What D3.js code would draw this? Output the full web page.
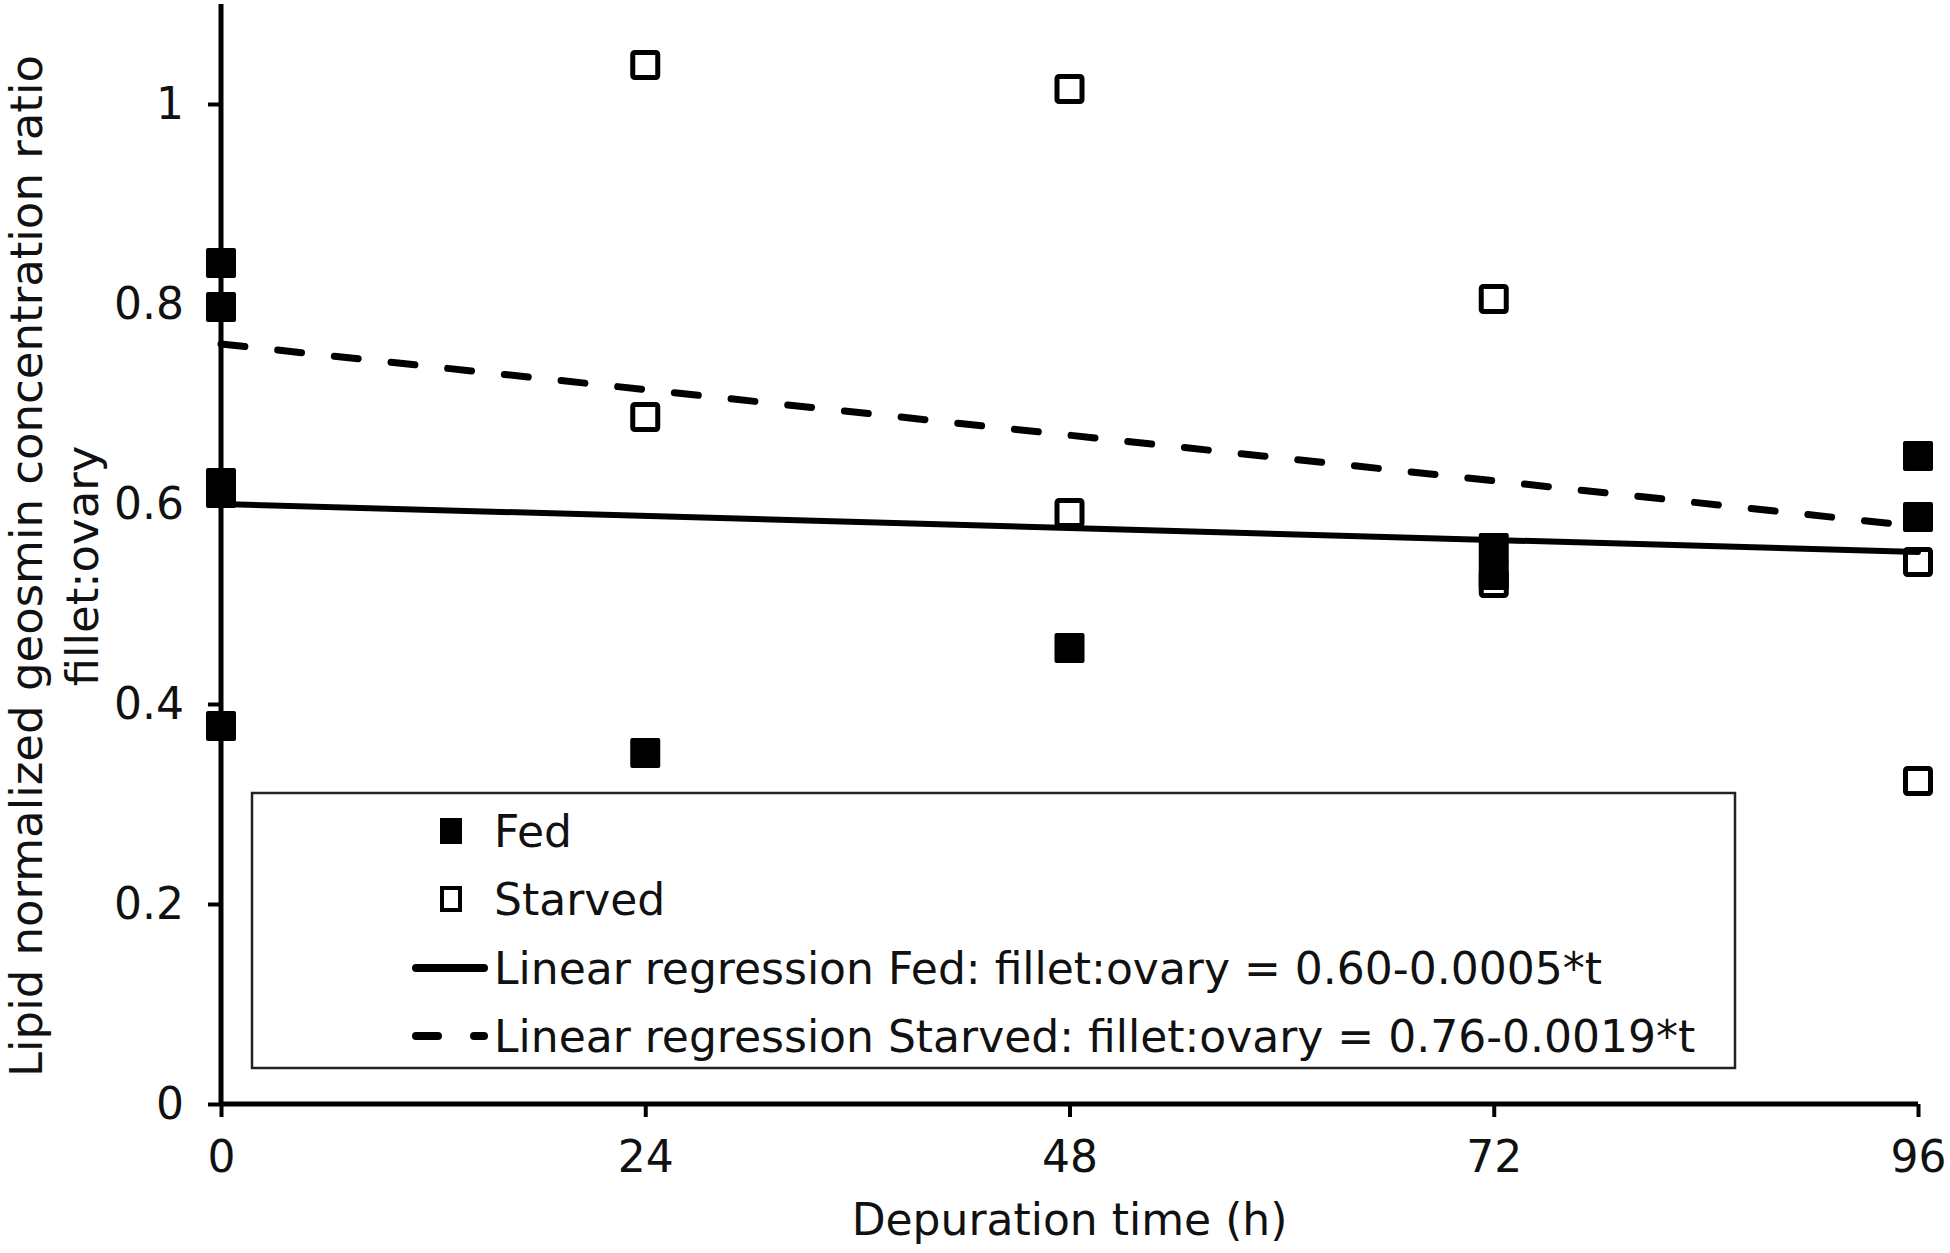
<!DOCTYPE html>
<html>
<head>
<meta charset="utf-8">
<script src="https://cdn.jsdelivr.net/npm/d3@7"></script>
<style>
  html, body { margin: 0; padding: 0; background: #fff; }
  svg text { font-family: "DejaVu Sans", Verdana, sans-serif; fill: #111; }
</style>
</head>
<body>
<div id="chart"></div>
<script>
// depuration time (h) and lipid normalized fillet:ovary ratio
const fedTime = [0, 0, 0, 0, 0, 24, 48, 72, 72, 96, 96];
const fedRatio = [0.841, 0.797, 0.621, 0.611, 0.378, 0.351, 0.456, 0.556, 0.529, 0.648, 0.587];
const starvedTime = [24, 24, 48, 48, 72, 72, 96, 96];
const starvedRatio = [1.039, 0.687, 1.015, 0.591, 0.805, 0.521, 0.542, 0.323];

const xTicks = [0, 24, 48, 72, 96];
const yTicks = [0, 0.2, 0.4, 0.6, 0.8, 1];

// fitted lines: ratio = intercept + slope * t
const fitNames = ["Fed", "Starved"];
const fitIntercept = [0.60, 0.76];
const fitSlope = [-0.0005, -0.0019];
const legendLabels = [
  "Fed",
  "Starved",
  "Linear regression Fed: fillet:ovary = 0.60-0.0005*t",
  "Linear regression Starved: fillet:ovary = 0.76-0.0019*t"
];

const width = 1950, height = 1253;
const margins = { top: 4, right: 32, bottom: 149, left: 221 };
const w = width - margins.left - margins.right;
const h = height - margins.top - margins.bottom;
const fontSize = "44px";

const svg = d3.select("#chart").append("svg")
  .attr("width", width)
  .attr("height", height)
  .append("g")
  .attr("transform", `translate(${margins.left},${margins.top})`);

const x = d3.scaleLinear().domain([0, 96]).range([0, w]);
const y = d3.scaleLinear().domain([0, 1.1]).range([h, 0]);

// axes
const yAxis = svg.append("g")
  .call(d3.axisLeft(y).tickValues(yTicks).tickSize(13).tickPadding(24).tickFormat(d3.format("~g")));
const xAxis = svg.append("g")
  .attr("transform", `translate(0,${h})`)
  .call(d3.axisBottom(x).tickValues(xTicks).tickSize(13).tickPadding(24));

[xAxis, yAxis].forEach(g => {
  g.select(".domain").attr("stroke", "#000").attr("stroke-width", 5);
  g.selectAll(".tick line").attr("stroke", "#000").attr("stroke-width", 4);
  g.selectAll(".tick text").style("font-size", fontSize).style("font-family", "DejaVu Sans, sans-serif").attr("fill", "#111");
});
yAxis.select(".domain").attr("d", `M0,${h}V0`);
xAxis.select(".domain").attr("d", `M0,0H${w}`);
xAxis.selectAll(".tick line").attr("y1", 0);

// legend box (drawn under the marks)
const legend = svg.append("g").attr("transform", `translate(${252 - margins.left},${793 - margins.top})`);
legend.append("rect")
  .attr("width", 1483)
  .attr("height", 275)
  .attr("fill", "#fff")
  .attr("stroke", "#222")
  .attr("stroke-width", 2.5);

// starved (open squares)
const ms = 25;
svg.selectAll("rect.starved")
  .data(starvedTime.map((t, i) => ({ t, v: starvedRatio[i] })))
  .enter().append("rect")
  .attr("class", "starved")
  .attr("x", d => x(d.t) - ms / 2)
  .attr("y", d => y(d.v) - ms / 2)
  .attr("width", ms)
  .attr("height", ms)
  .attr("rx", 2)
  .attr("fill", "#fff")
  .attr("stroke", "#000")
  .attr("stroke-width", 5);

// fed (filled squares)
const fs = 30;
svg.selectAll("rect.fed")
  .data(fedTime.map((t, i) => ({ t, v: fedRatio[i] })))
  .enter().append("rect")
  .attr("class", "fed")
  .attr("x", d => x(d.t) - fs / 2)
  .attr("y", d => y(d.v) - fs / 2)
  .attr("width", fs)
  .attr("height", fs)
  .attr("rx", 2)
  .attr("fill", "#000");

// regression lines
const line = d3.line().x(d => x(d.t)).y(d => y(d.v));
fitNames.forEach((name, i) => {
  const pts = [0, 96].map(t => ({ t, v: fitIntercept[i] + fitSlope[i] * t }));
  svg.append("path")
    .datum(pts)
    .attr("d", line)
    .attr("fill", "none")
    .attr("stroke", "#000")
    .attr("stroke-width", i === 0 ? 6 : 7)
    .attr("stroke-linecap", "round")
    .attr("stroke-dasharray", i === 0 ? null : "24,33");
});

// legend entries
const rowY = [38, 106, 175, 243];
const markX = 451 - 252;
const textX = 494 - 252;
legend.append("rect")
  .attr("x", markX - 11).attr("y", rowY[0] - 13)
  .attr("width", 22).attr("height", 26)
  .attr("fill", "#000");
legend.append("rect")
  .attr("x", markX - 9).attr("y", rowY[1] - 11)
  .attr("width", 18).attr("height", 22)
  .attr("fill", "#fff").attr("stroke", "#000").attr("stroke-width", 4);
legend.append("line")
  .attr("x1", 416 - 252).attr("x2", textX - 10)
  .attr("y1", rowY[2]).attr("y2", rowY[2])
  .attr("stroke", "#000").attr("stroke-width", 8).attr("stroke-linecap", "round");
legend.append("line")
  .attr("x1", 416 - 252).attr("x2", textX - 10)
  .attr("y1", rowY[3]).attr("y2", rowY[3])
  .attr("stroke", "#000").attr("stroke-width", 8).attr("stroke-linecap", "round")
  .attr("stroke-dasharray", "22,36");
legend.selectAll("text.item")
  .data(legendLabels)
  .enter().append("text")
  .attr("class", "item")
  .attr("x", textX)
  .attr("y", (d, i) => rowY[i])
  .attr("dy", "0.36em")
  .style("font-size", fontSize)
  .text(d => d);

// axis titles
svg.append("text")
  .attr("text-anchor", "middle")
  .attr("x", w / 2)
  .attr("y", 1219 - margins.top)
  .attr("dy", "0.36em")
  .style("font-size", fontSize)
  .text("Depuration time (h)");

const yTitle = svg.append("text")
  .attr("text-anchor", "middle")
  .attr("transform", `translate(${42 - margins.left},${566 - margins.top}) rotate(-90)`)
  .style("font-size", "45px");
yTitle.append("tspan").attr("x", 0).attr("dy", 0).text("Lipid normalized geosmin concentration ratio");
yTitle.append("tspan").attr("x", 0).attr("dy", "1.25em").text("fillet:ovary");
</script>
</body>
</html>
